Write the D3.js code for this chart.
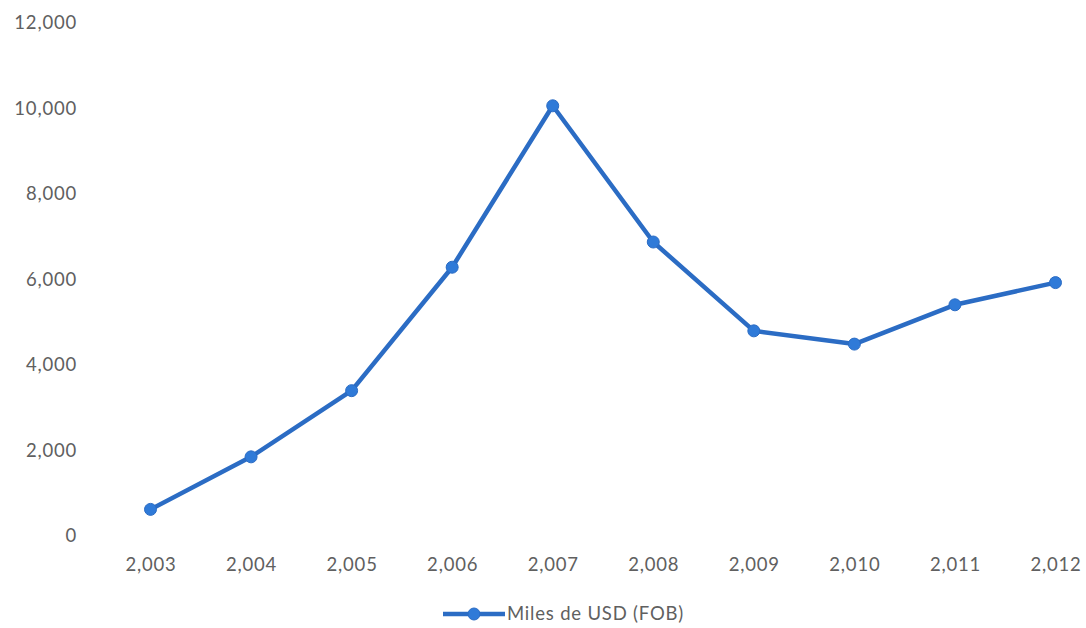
<!DOCTYPE html>
<html>
<head>
<meta charset="utf-8">
<script src="https://cdn.jsdelivr.net/npm/d3@7"></script>
<style>
  html, body { margin: 0; padding: 0; background: #fff; }
  svg { display: block; }
  text { font-family: Lato, "Open Sans", sans-serif; fill: #606060; font-weight: 400; letter-spacing: 0.8px; }
</style>
</head>
<body>
<svg id="chart" width="1086" height="628"></svg>
<script>
// Export values, thousands of USD (FOB), per year
const years = ["2,003", "2,004", "2,005", "2,006", "2,007", "2,008", "2,009", "2,010", "2,011", "2,012"];
const values = [600, 1830, 3380, 6270, 10050, 6860, 4780, 4470, 5390, 5910];
const yTicks = [0, 2000, 4000, 6000, 8000, 10000, 12000];
const seriesName = "Miles de USD (FOB)";

const svg = d3.select("#chart");
const lineColor = "#2b6cc4";
const dotColor = "#2f7ad8";
const fontSize = "18.5px";

const x = d3.scalePoint().domain(years).range([150.5, 1055.5]);
const y = d3.scaleLinear().domain([0, 12000]).range([535, 22.5]);

const fmt = d3.format(",");

// Y axis labels (no axis line, no gridlines)
const yAxis = d3.axisLeft(y).tickValues(yTicks).tickFormat(fmt).tickSize(0).tickPadding(0);
const gy = svg.append("g").attr("transform", "translate(77,0)").call(yAxis);
gy.select(".domain").remove();
gy.selectAll("text").style("font-size", fontSize).attr("dy", "0.35em").attr("fill", null);

// X axis labels
const xAxis = d3.axisBottom(x).tickSize(0).tickPadding(0);
const gx = svg.append("g").attr("transform", "translate(0,565)").call(xAxis);
gx.select(".domain").remove();
gx.selectAll("text").style("font-size", fontSize).attr("dy", "0.35em").attr("fill", null);
svg.selectAll("g").attr("font-family", null).attr("font-size", null);

// Series line
const line = d3.line().x((d, i) => x(years[i])).y(d => y(d));
svg.append("path")
  .datum(values)
  .attr("d", line)
  .attr("fill", "none")
  .attr("stroke", lineColor)
  .attr("stroke-width", 4.5)
  .attr("stroke-linejoin", "round");

// Markers
svg.append("g").selectAll("circle")
  .data(values)
  .join("circle")
  .attr("cx", (d, i) => x(years[i]))
  .attr("cy", d => y(d))
  .attr("r", 6)
  .attr("fill", dotColor)
  .attr("stroke", lineColor)
  .attr("stroke-width", 1);

// Legend
const lg = svg.append("g").attr("transform", "translate(443,614)");
lg.append("line").attr("x1", 0).attr("x2", 62).attr("y1", 0).attr("y2", 0)
  .attr("stroke", lineColor).attr("stroke-width", 4.5);
lg.append("circle").attr("cx", 31).attr("cy", 0).attr("r", 6)
  .attr("fill", dotColor).attr("stroke", lineColor).attr("stroke-width", 1);
lg.append("text").attr("x", 64).attr("y", 0).attr("dy", "0.35em")
  .style("font-size", fontSize).text(seriesName);
</script>
</body>
</html>
